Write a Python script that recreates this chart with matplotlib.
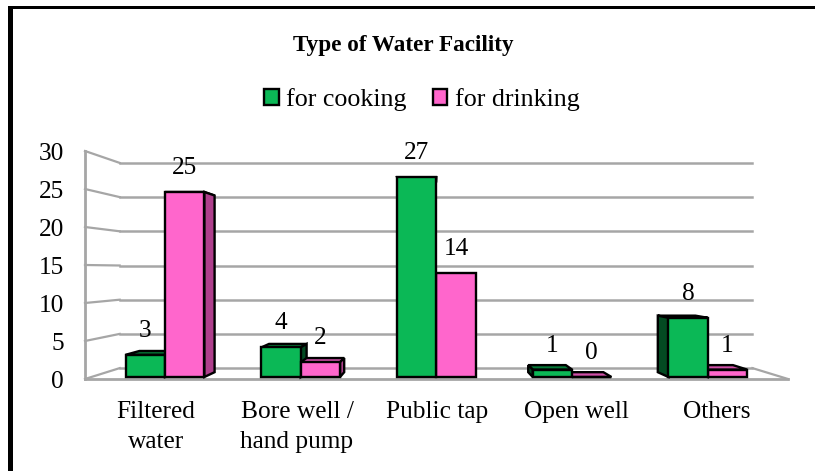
import matplotlib
matplotlib.use("Agg")
import matplotlib.pyplot as plt
from matplotlib.patches import Polygon, Rectangle

plt.rcParams['font.family'] = ['Liberation Serif', 'DejaVu Serif']

# data
categories = ['Filtered\nwater', 'Bore well /\nhand pump', 'Public tap', 'Open well', 'Others']
cooking = [3, 4, 27, 1, 8]
drinking = [25, 2, 14, 0, 1]
y_ticks = [0, 5, 10, 15, 20, 25, 30]
series_names = ['for cooking', 'for drinking']

# colours
green, green_top, green_side = '#0BB856', '#067A38', '#034A22'
pink, pink_top, pink_side = '#FF66CC', '#D050A8', '#AE3F8C'
grid_col = '#A6A6A6'

# pixel layout of the picture
W, H = 815, 471
L, R, T, B = 85, 788, 151, 379
X0, X_STEP = 165, 135.7   # px of first group centre, px per category
Y0, Y_STEP = 377, 7.4     # px of bar base, px per unit
WALL_STEP = 7.6           # front wall is a bit taller than the bars
BAR_W = 0.29
VP = ((432 - X0) / X_STEP, (Y0 - 270) / Y_STEP)  # vanishing point
FS = 18.3


def back(x, y, f):
    # pull a point towards the vanishing point
    return (x + (VP[0] - x) * f, y + (VP[1] - y) * f)


fig = plt.figure(figsize=(W / 100, H / 100), dpi=100, facecolor='white')
ax = fig.add_axes([L / W, 1 - B / H, (R - L) / W, (B - T) / H])
ax.set_xlim((L - X0) / X_STEP, (R - X0) / X_STEP)
ax.set_ylim((Y0 - B) / Y_STEP, (Y0 - T) / Y_STEP)
for s in ax.spines.values():
    s.set_visible(False)
ax.patch.set_visible(False)

xl, xr = ax.get_xlim()
WALL = 0.1
wall_y = [(t * WALL_STEP - 2) / Y_STEP for t in y_ticks]

# walls and gridlines
for y in wall_y:
    p0 = back(xl, y, WALL)
    p1 = back(xr, y, WALL)
    ax.plot([p0[0], p1[0]], [p0[1], p1[1]], color=grid_col, lw=1.8, clip_on=False, zorder=1)
    ax.plot([xl, p0[0]], [y, p0[1]], color=grid_col, lw=1.6, clip_on=False, zorder=1)
ax.plot([xl, xl], [wall_y[0], wall_y[-1]], color=grid_col, lw=2, clip_on=False, zorder=1)
ax.plot([xl, xr], [wall_y[0], wall_y[0]], color=grid_col, lw=2, clip_on=False, zorder=1)
p1 = back(xr, wall_y[0], WALL)
ax.plot([xr, p1[0]], [wall_y[0], p1[1]], color=grid_col, lw=1.6, clip_on=False, zorder=1)


def bar3d(x0, x1, v, face, top, side, z):
    f = 0.045
    kw = dict(edgecolor='black', lw=1.7, joinstyle='miter', clip_on=False, zorder=z)
    ax.add_patch(Polygon([(x0, v), (x1, v), back(x1, v, f), back(x0, v, f)], facecolor=top, **kw))
    if x1 < VP[0]:
        ax.add_patch(Polygon([(x1, 0), (x1, v), back(x1, v, f), back(x1, 0, f)], facecolor=side, **kw))
    if x0 > VP[0]:
        ax.add_patch(Polygon([(x0, 0), (x0, v), back(x0, v, f), back(x0, 0, f)], facecolor=side, **kw))
    ax.add_patch(Rectangle((x0, 0), x1 - x0, v, facecolor=face, **kw))


for i in range(len(categories)):
    # whichever bar is nearer the middle of the picture goes on top
    z_c, z_d = (3, 4) if i < 2 else (4, 3)
    bar3d(i - BAR_W, i, cooking[i], green, green_top, green_side, z_c)
    bar3d(i, i + BAR_W, drinking[i], pink, pink_top, pink_side, z_d)
    ax.annotate(str(cooking[i]), (i - BAR_W / 2, cooking[i]), xytext=(0, 17.3),
                textcoords='offset points', ha='center', va='center', fontsize=FS, zorder=6)
    ax.annotate(str(drinking[i]), (i + BAR_W / 2, drinking[i]), xytext=(0, 17.3),
                textcoords='offset points', ha='center', va='center', fontsize=FS, zorder=6)

# axis labels
label_px = [156, 297, 437, 576, 717]
ax.set_xticks([(p - X0) / X_STEP for p in label_px])
ax.set_xticklabels(categories, fontsize=FS, linespacing=1.45)
ax.set_yticks(wall_y)
ax.set_yticklabels([str(t) for t in y_ticks], fontsize=FS)
ax.tick_params(axis='x', length=0, pad=16)
ax.tick_params(axis='y', length=0, pad=15)

# title and legend
fig.text(403.5 / W, 1 - 45 / H, 'Type of Water Facility', ha='center', va='center',
         fontsize=16.7, fontweight='bold')
handles = [Rectangle((0, 0), 1, 1, facecolor=green, edgecolor='black', lw=1.7),
           Rectangle((0, 0), 1, 1, facecolor=pink, edgecolor='black', lw=1.7)]
fig.legend(handles, series_names, ncol=2, frameon=False, fontsize=18.7,
           loc='center', bbox_to_anchor=(422 / W, 1 - 100 / H),
           handlelength=0.55, handleheight=0.55, handletextpad=0.3, columnspacing=1.0)

# picture frame, left and top only
fig.add_artist(Rectangle((7.5 / W, 0), 5 / W, 1 - 6 / H, transform=fig.transFigure,
                         facecolor='black', edgecolor='none'))
fig.add_artist(Rectangle((7.5 / W, 1 - 9.3 / H), 1 - 7.5 / W, 3.3 / H, transform=fig.transFigure,
                         facecolor='black', edgecolor='none'))

fig.savefig('out.png', dpi=100)
